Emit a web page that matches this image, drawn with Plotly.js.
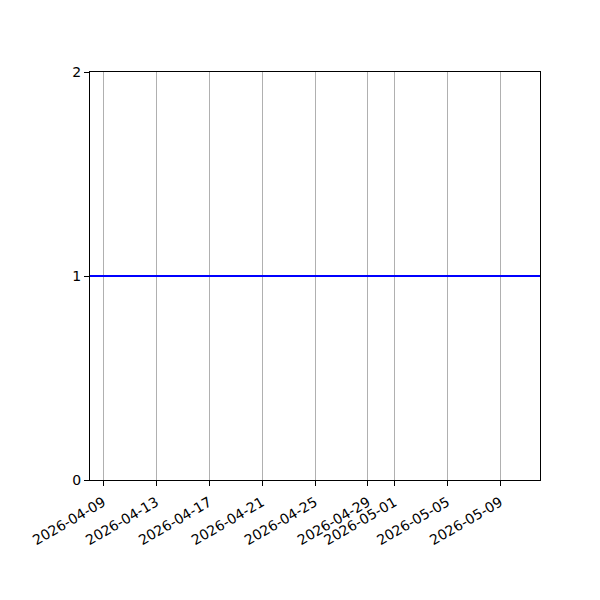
<!DOCTYPE html>
<html>
<head>
<meta charset="utf-8">
<script src="https://cdn.plot.ly/plotly-3.0.1.min.js"></script>
<style>html,body{margin:0;padding:0;background:#fff;}</style>
</head>
<body>
<div id="chart" style="width:600px;height:600px;"></div>
<script>
var dates = ['2026-04-08', '2026-05-12'];
var values = [1, 1];
var xTickDates = ['2026-04-09','2026-04-13','2026-04-17','2026-04-21','2026-04-25','2026-04-29','2026-05-01','2026-05-05','2026-05-09'];
var xTickLabels = ['2026-04-09','2026-04-13','2026-04-17','2026-04-21','2026-04-25','2026-04-29','2026-05-01','2026-05-05','2026-05-09'];
var yTicks = [0, 1, 2];

var trace = {
  x: dates, y: values, type: 'scatter', mode: 'lines',
  line: {color: '#0000ff', width: 2}, hoverinfo: 'skip'
};
var layout = {
  width: 600, height: 600,
  margin: {l: 90, r: 60, t: 72, b: 120},
  paper_bgcolor: '#fff', plot_bgcolor: '#fff',
  showlegend: false,
  font: {family: 'DejaVu Sans', size: 14, color: '#000'},
  xaxis: {
    type: 'date', range: ['2026-04-08', '2026-05-12'],
    tickmode: 'array', tickvals: xTickDates, ticktext: xTickLabels,
    tickangle: -30, ticks: 'outside', ticklen: 5, tickwidth: 1, tickcolor: '#000',
    ticklabelstandoff: 3,
    showgrid: true, gridcolor: '#b0b0b0', gridwidth: 1,
    showline: true, linecolor: '#000', linewidth: 1, mirror: true,
    zeroline: false, tickfont: {family: 'DejaVu Sans', size: 14}
  },
  yaxis: {
    range: [0, 2], tickmode: 'array', tickvals: yTicks, ticktext: yTicks.map(String),
    ticks: 'outside', ticklen: 5, tickwidth: 1, tickcolor: '#000',
    showgrid: false, zeroline: false,
    showline: true, linecolor: '#000', linewidth: 1, mirror: true,
    tickfont: {family: 'DejaVu Sans', size: 14}
  }
};
Plotly.newPlot('chart', [trace], layout, {displayModeBar: false, staticPlot: true});
</script>
</body>
</html>
